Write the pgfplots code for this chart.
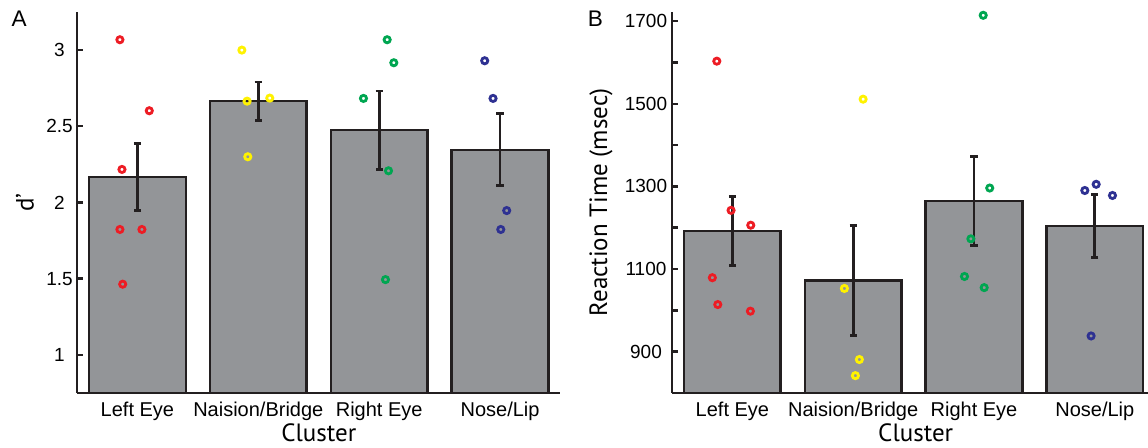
\documentclass[border=0pt]{standalone}
\usepackage{fontspec}
\setmainfont{Liberation Sans}
\newfontfamily\labfont{PT Sans}
\usepackage{pgfplots}
\pgfplotsset{compat=1.18}
\definecolor{barfill}{RGB}{147,149,152}
\definecolor{edge}{RGB}{35,31,32}
\definecolor{pred}{RGB}{237,28,36}
\definecolor{pyel}{RGB}{255,242,0}
\definecolor{pgreen}{RGB}{0,166,81}
\definecolor{pblue}{RGB}{46,49,146}
\pgfplotsset{
  panel/.style={
    scale only axis, height=190.5pt,
    axis x line*=bottom, axis y line*=left,
    axis line style={line width=1.4pt, edge, -},
    xmin=0.5, xtick={1,2,3,4},
    xticklabels={Left Eye, Naision/Bridge, Right Eye, Nose/Lip},
    x tick style={draw=none},
    xticklabel style={font=\fontsize{10}{12}\selectfont, yshift=-1pt},
    y tick style={line width=1.2pt, edge},
    tick align=inside, major tick length=2.8pt,
    yticklabel style={font=\fontsize{9.5}{11}\selectfont, anchor=center},
    label style={font=\labfont\fontsize{12.5}{14}\selectfont},
  },
  dots/.style={only marks, mark=o, mark size=1.55pt, line width=1.4pt},
  bars/.style={ybar, bar width=0.8, fill=barfill, draw=edge, line width=1.25pt,
    error bars/.cd, y dir=both, y explicit,
    error bar style={line width=1.4pt, edge},
    error mark options={rotate=90, mark size=1.8pt, line width=1.4pt, edge}},
}
\begin{document}
\begin{tikzpicture}
\useasboundingbox (0,0) rectangle (574pt,224pt);
% Panel A
\begin{axis}[panel, at={(38.5pt,27.5pt)}, anchor=south west, width=241.75pt,
  xmax=4.5, ymin=0.75, ymax=3.25,
  ytick={1,1.5,2,2.5,3}, yticklabels={1,1.5,2,2.5,3},
  yticklabel style={xshift=-8.75pt},
  ylabel={d’}, ylabel style={at={(axis description cs:-0.1075,0.5)}, anchor=center},
  xlabel={Cluster}, xlabel style={at={(axis description cs:0.5,-0.105)}, anchor=center}]
\addplot[bars] coordinates {(1,2.166) +- (0,0.22) (2,2.665) +- (0,0.126) (3,2.475) +- (0,0.256) (4,2.346) +- (0,0.236)};
\addplot[dots, pred] coordinates {(0.855,3.068) (1.098,2.602) (0.872,2.217) (0.855,1.823) (1.037,1.823) (0.878,1.464)};
\addplot[dots, pyel] coordinates {(1.864,3.0) (1.907,2.665) (2.095,2.685) (1.913,2.30)};
\addplot[dots, pgreen] coordinates {(3.066,3.068) (3.121,2.917) (2.87,2.683) (3.077,2.208) (3.052,1.494)};
\addplot[dots, pblue] coordinates {(3.873,2.93) (3.942,2.683) (4.055,1.947) (4.006,1.823)};
\end{axis}
% Panel B
\begin{axis}[panel, at={(336pt,27.5pt)}, anchor=south west, width=238pt,
  xmax=4.44, ymin=800, ymax=1722,
  ytick={900,1000,...,1700}, yticklabels={900,,1100,,1300,,1500,,1700},
  yticklabel style={xshift=-13pt},
  ylabel={Reaction Time (msec)}, ylabel style={at={(axis description cs:-0.149,0.5)}, anchor=center},
  xlabel={Cluster}, xlabel style={at={(axis description cs:0.512,-0.105)}, anchor=center}]
\addplot[bars] coordinates {(1,1192) +- (0,84) (2,1072) +- (0,133) (3,1264) +- (0,108) (4,1204) +- (0,77)};
\addplot[dots, pred] coordinates {(0.871,1603) (0.989,1242) (1.152,1206) (0.834,1079) (0.879,1014) (1.149,998)};
\addplot[dots, pyel] coordinates {(2.082,1511) (1.927,1053) (2.051,881) (2.018,842)};
\addplot[dots, pgreen] coordinates {(3.076,1714) (3.13,1296) (2.974,1173) (2.921,1082) (3.084,1055)};
\addplot[dots, pblue] coordinates {(3.917,1290) (4.011,1305) (4.146,1278) (3.969,938)};
\end{axis}
\node[font=\fontsize{11.3}{13}\selectfont] at (9.6pt,214.4pt) {A};
\node[font=\fontsize{11.3}{13}\selectfont] at (297.7pt,214.4pt) {B};
\end{tikzpicture}
\end{document}
